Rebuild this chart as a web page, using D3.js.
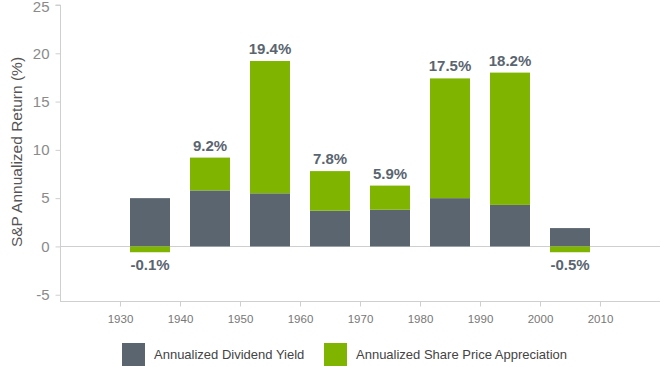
<!DOCTYPE html>
<html>
<head>
<meta charset="utf-8">
<script src="https://cdn.jsdelivr.net/npm/d3@7"></script>
<style>
  html, body { margin: 0; padding: 0; background: #fff; }
  svg { display: block; font-family: "Liberation Sans", Arial, Helvetica, sans-serif; }
</style>
</head>
<body>
<svg id="chart" width="660" height="367"></svg>
<script>
const decades = [1930, 1940, 1950, 1960, 1970, 1980, 1990, 2000];
const dividendYield = [5.0, 5.8, 5.5, 3.7, 3.8, 5.0, 4.3, 1.9];
const priceAppreciation = [-0.6, 3.4, 13.7, 4.1, 2.5, 12.4, 13.7, -0.6];
const totalLabels = ["-0.1%", "9.2%", "19.4%", "7.8%", "5.9%", "17.5%", "18.2%", "-0.5%"];
const xTicks = [1930, 1940, 1950, 1960, 1970, 1980, 1990, 2000, 2010];
const yTicks = [-5, 0, 5, 10, 15, 20, 25];
const seriesNames = ["Annualized Dividend Yield", "Annualized Share Price Appreciation"];

const colorDiv = "#5a6570";
const colorApp = "#7fb500";

const svg = d3.select("#chart");
const x = d3.scaleLinear().domain([1920, 2020]).range([60, 660]);
const y = d3.scaleLinear().domain([-5.65, 25]).range([301, 5]);
const barW = x(1936.667) - x(1930);

// zero line
svg.append("line")
  .attr("x1", x(1920)).attr("x2", x(2020))
  .attr("y1", Math.round(y(0)) + 0.5).attr("y2", Math.round(y(0)) + 0.5)
  .attr("stroke", "#cfcfcf").attr("stroke-width", 1);

// y axis
const yAxis = d3.axisLeft(y).tickValues(yTicks).tickSize(5).tickPadding(6).tickFormat(d => String(d));
const gy = svg.append("g").attr("transform", "translate(60.5,0)").call(yAxis);
gy.select(".domain").attr("stroke", "#cfcfcf").attr("d", `M-5,${y(25)}H0V${y(-5.65)}`);
gy.selectAll(".tick line").attr("stroke", "#cfcfcf");
gy.selectAll(".tick text").attr("fill", "#8a8a8a").style("font-size", "15px").attr("font-family", null)
  .attr("dy", d => d === 25 ? "0.42em" : "0.32em");

// x axis
const xAxis = d3.axisBottom(x).tickValues(xTicks).tickSize(5).tickPadding(8).tickFormat(d => String(d));
const gx = svg.append("g").attr("transform", "translate(0,301.5)").call(xAxis);
gx.select(".domain").attr("stroke", "#cfcfcf").attr("d", `M${x(1920)},0H${x(2020)}`);
gx.selectAll(".tick line").attr("stroke", "#cfcfcf");
gx.selectAll(".tick text").attr("fill", "#777").style("font-size", "11.5px").attr("font-family", null);

// bars
const data = decades.map((d, i) => ({
  decade: d, div: dividendYield[i], app: priceAppreciation[i], label: totalLabels[i]
}));

const g = svg.append("g");
g.selectAll("rect.div").data(data).enter().append("rect")
  .attr("class", "div")
  .attr("x", d => x(d.decade + 5) - barW / 2)
  .attr("width", barW)
  .attr("y", d => y(d.div))
  .attr("height", d => y(0) - y(d.div))
  .attr("fill", colorDiv);

g.selectAll("rect.app").data(data).enter().append("rect")
  .attr("class", "app")
  .attr("x", d => x(d.decade + 5) - barW / 2)
  .attr("width", barW)
  .attr("y", d => d.app >= 0 ? y(d.div + d.app) : y(0))
  .attr("height", d => d.app >= 0 ? y(d.div) - y(d.div + d.app) : y(d.app) - y(0))
  .attr("fill", colorApp);

g.selectAll("text.val").data(data).enter().append("text")
  .attr("class", "val")
  .attr("x", d => x(d.decade + 5))
  .attr("y", d => d.app >= 0 ? y(d.div + d.app) - 7 : y(d.app) + 18)
  .attr("text-anchor", "middle")
  .attr("fill", colorDiv)
  .style("font-size", "15px")
  .style("font-weight", "bold")
  .text(d => d.label);

// y axis title
svg.append("text")
  .attr("transform", "translate(22,152) rotate(-90)")
  .attr("text-anchor", "middle")
  .attr("fill", "#555")
  .style("font-size", "15.5px")
  .text("S&P Annualized Return (%)");

// legend
const legendX = [122, 324];
const legendColors = [colorDiv, colorApp];
const lg = svg.append("g");
seriesNames.forEach((name, i) => {
  lg.append("rect").attr("x", legendX[i]).attr("y", 343).attr("width", 23).attr("height", 23).attr("fill", legendColors[i]);
  lg.append("text").attr("x", legendX[i] + 32).attr("y", 359)
    .attr("fill", "#444").style("font-size", "13px").text(name);
});
</script>
</body>
</html>
